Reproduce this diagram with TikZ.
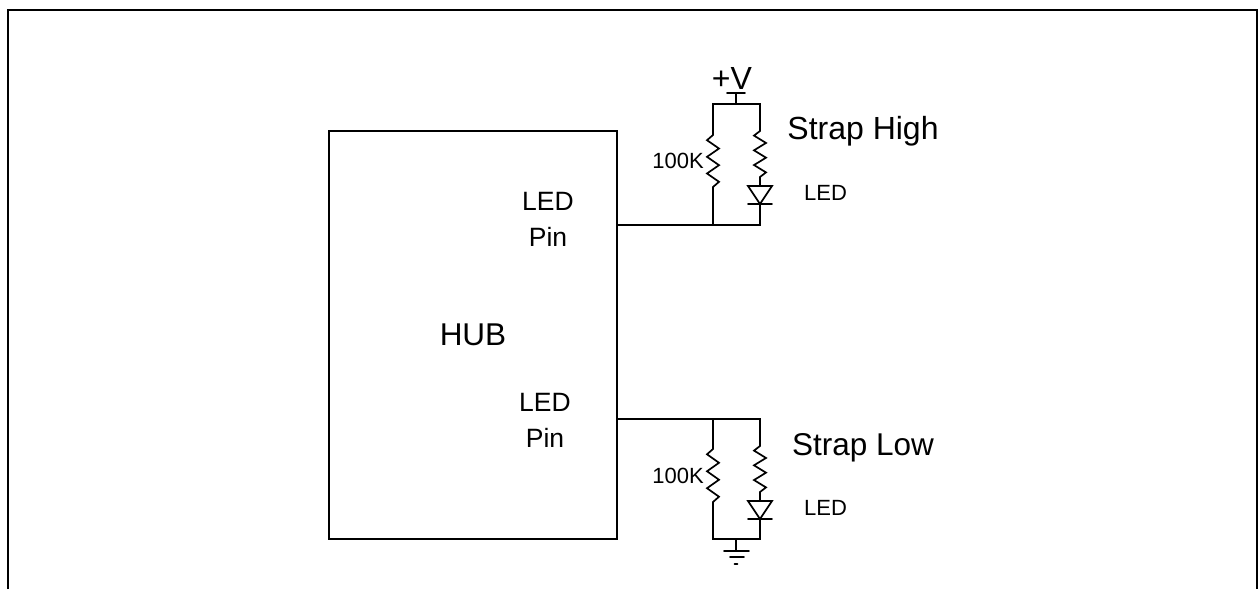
\documentclass[tikz,border=0pt]{standalone}
\usepackage{fontspec}
\setmainfont{Liberation Sans}
\newcommand{\fs}[1]{\fontsize{#1pt}{#1pt}\selectfont}
\tikzset{
  x=1pt,y=-1pt,
  wire/.style={draw=black,line width=1.7pt,line cap=round,line join=miter},
  frameline/.style={draw=black,line width=2.2pt},
  lbl/.style={inner sep=0pt,outer sep=0pt,text=black,align=center},
  hubbox/.style={draw=black,line width=1.7pt,minimum width=288pt,minimum height=408pt,inner sep=0pt},
  pics/resistor/.style={code={
    \draw[wire] (0,0) -- (-6,.1) -- (6,.26) -- (-6,.42) -- (6,.58) -- (-6,.74) -- (6,.9) -- (0,1);
  }},
  pics/diode/.style={code={
    \draw[wire] (-12,0) -- (12,0) -- (0,18) -- cycle;
    \draw[wire] (-12,18) -- (12,18);
  }}
}
\begin{document}
\begin{tikzpicture}
\useasboundingbox (0,0) rectangle (1258,589);
\draw[frameline] (8,589) -- (8,10) -- (1257,10) -- (1257,589);
\node[hubbox] (hub) at (473,335) {};
\node[lbl,font=\fs{31.5}] (hubtext) at (473,335) {HUB};
\node[lbl,font=\fs{26.5},text width=70pt,execute at begin node=\setlength{\baselineskip}{36pt}] (pin1) at (548,219) {LED\\Pin};
\node[lbl,font=\fs{26.5},text width=70pt,execute at begin node=\setlength{\baselineskip}{36pt}] (pin2) at (545,420) {LED\\Pin};
% upper circuit
\coordinate (w1) at (617,225);
\coordinate (j1) at (713,225);
\coordinate (j2) at (760,225);
\coordinate (t1) at (713,104);
\coordinate (t2) at (760,104);
\coordinate (vs) at (736,104);
\coordinate (vb) at (736,93);
\coordinate (vl) at (727,93);
\coordinate (vr) at (745,93);
\coordinate (r1a) at (713,135);
\coordinate (r1b) at (713,187);
\coordinate (r2a) at (760,131);
\coordinate (r2b) at (760,177);
\coordinate (d1a) at (760,186);
\coordinate (d1b) at (760,204);
\draw[wire] (w1) -- (j2) -- (d1b);
\draw[wire] (j1) -- (r1b);
\draw[wire] (r1a) -- (t1) -- (t2) -- (r2a);
\draw[wire] (r2b) -- (d1a);
\draw[wire] (vs) -- (vb);
\draw[wire] (vl) -- (vr);
\pic[yscale=52] at (r1a) {resistor};
\pic[yscale=46] at (r2a) {resistor};
\pic at (d1a) {diode};
\node[lbl,font=\fs{32},anchor=base] (plusv) at (732,89) {+V};
\node[lbl,font=\fs{22}] (r1l) at (678,161) {100K};
\node[lbl,font=\fs{32}] (high) at (863,131) {Strap High};
\node[lbl,font=\fs{22}] (led1) at (825.5,193) {LED};
% lower circuit
\coordinate (w2) at (617,419);
\coordinate (k1) at (713,419);
\coordinate (k2) at (760,419);
\coordinate (b1) at (713,539);
\coordinate (b2) at (760,539);
\coordinate (gs) at (736,539);
\coordinate (gb) at (736,551);
\coordinate (g1l) at (724,551);
\coordinate (g1r) at (749,551);
\coordinate (g2l) at (730,557);
\coordinate (g2r) at (744,557);
\coordinate (g3l) at (734.5,564);
\coordinate (g3r) at (737.5,564);
\coordinate (r3a) at (713,449);
\coordinate (r3b) at (713,502);
\coordinate (r4a) at (760,446);
\coordinate (r4b) at (760,492);
\coordinate (d2a) at (760,501);
\coordinate (d2b) at (760,519);
\draw[wire] (w2) -- (k2) -- (r4a);
\draw[wire] (k1) -- (r3a);
\draw[wire] (r3b) -- (b1) -- (b2) -- (d2b);
\draw[wire] (r4b) -- (d2a);
\draw[wire] (gs) -- (gb);
\draw[wire] (g1l) -- (g1r);
\draw[wire] (g2l) -- (g2r);
\draw[wire] (g3l) -- (g3r);
\pic[yscale=53] at (r3a) {resistor};
\pic[yscale=46] at (r4a) {resistor};
\pic at (d2a) {diode};
\node[lbl,font=\fs{22}] (r3l) at (678,476) {100K};
\node[lbl,font=\fs{31.5}] (low) at (863,448) {Strap Low};
\node[lbl,font=\fs{22}] (led2) at (825.5,508) {LED};
\end{tikzpicture}
\end{document}
